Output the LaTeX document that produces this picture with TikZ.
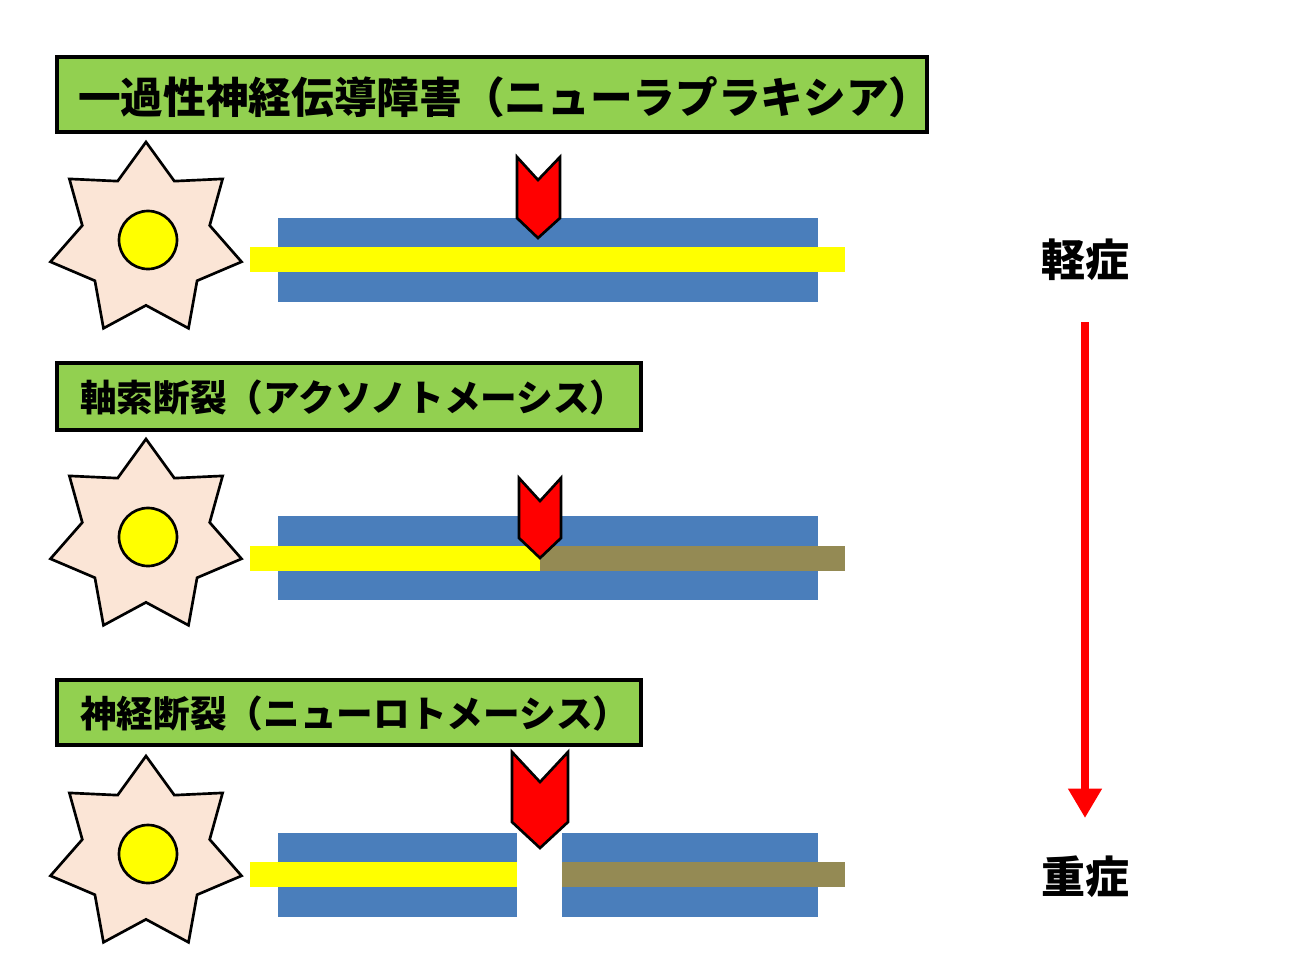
\documentclass[tikz,border=0pt]{standalone}
\usepackage{fontspec}
\newfontfamily\cjk{Noto Sans CJK JP}[BoldFont={* Black}]
\usetikzlibrary{shapes.geometric,arrows.meta}
\definecolor{lbl}{HTML}{92D050}
\definecolor{myel}{HTML}{4A7EBB}
\definecolor{ax}{HTML}{FFFF00}
\definecolor{dead}{HTML}{948A54}
\definecolor{soma}{HTML}{FBE5D6}
\tikzset{
 labelbox/.style={draw=black,line width=2.4pt,fill=lbl},
 labeltext/.style={anchor=west,inner sep=0pt,font=\cjk\bfseries},
 cell/.style={star,star points=7,star point ratio=1.5,minimum size=196*0.75pt,draw=black,line width=2pt,fill=soma,inner sep=0pt},
 nucleus/.style={circle,draw=black,line width=2pt,fill=ax,minimum size=58*0.75pt,inner sep=0pt},
 chev/.style={draw=black,line width=2pt,fill=red,line join=miter},
}
\begin{document}
\begin{tikzpicture}[x=0.75pt,y=-0.75pt]
\useasboundingbox (0,0) rectangle (1300,975);
% labels
\draw[labelbox] (57,57) rectangle (927,132);
\node[labeltext,font=\cjk\bfseries\fontsize{32}{34}\selectfont] (t1) at (78,97) {一過性神経伝導障害（ニューラプラキシア）};
\draw[labelbox] (57,363) rectangle (641,430);
\node[labeltext,font=\cjk\bfseries\fontsize{27.5}{29}\selectfont] (t2) at (80,398) {軸索断裂（アクソノトメーシス）};
\draw[labelbox] (57,680) rectangle (641,745);
\node[labeltext,font=\cjk\bfseries\fontsize{27.5}{29}\selectfont] (t3) at (80,714) {神経断裂（ニューロトメーシス）};
% row 1
\fill[myel] (278,218) rectangle (818,302);
\fill[ax] (250,247) rectangle (845,272);
\node[cell] (c1) at (146,240) {};
\node[nucleus] (n1) at (148,240) {};
\draw[chev] (517,157) -- (538,180) -- (560,157) -- (560,218) -- (538,238) -- (517,218) -- cycle;
% row 2
\fill[myel] (278,516) rectangle (818,600);
\fill[ax] (250,546) rectangle (540,571);
\fill[dead] (540,546) rectangle (845,571);
\node[cell] (c2) at (146,537) {};
\node[nucleus] (n2) at (148,537) {};
\draw[chev] (519,478) -- (540,501) -- (561,478) -- (561,538) -- (540,558) -- (519,538) -- cycle;
% row 3
\fill[myel] (278,833) rectangle (517,917);
\fill[myel] (562,833) rectangle (818,917);
\fill[ax] (250,862) rectangle (517,887);
\fill[dead] (562,862) rectangle (845,887);
\node[cell] (c3) at (146,854) {};
\node[nucleus] (n3) at (148,854) {};
\draw[chev] (512,752) -- (540,782) -- (568,752) -- (568,822) -- (540,848) -- (512,822) -- cycle;
% severity
\node[font=\cjk\bfseries\fontsize{33}{35}\selectfont] (mild) at (1085,260) {軽症};
\node[font=\cjk\bfseries\fontsize{33}{35}\selectfont] (sev) at (1085,877) {重症};
\coordinate (a0) at (1085,322);
\coordinate (a1) at (1085,818);
\draw[red,line width=6pt,-{Triangle[length=22pt,width=24pt]}] (a0) -- (a1);
\end{tikzpicture}
\end{document}
